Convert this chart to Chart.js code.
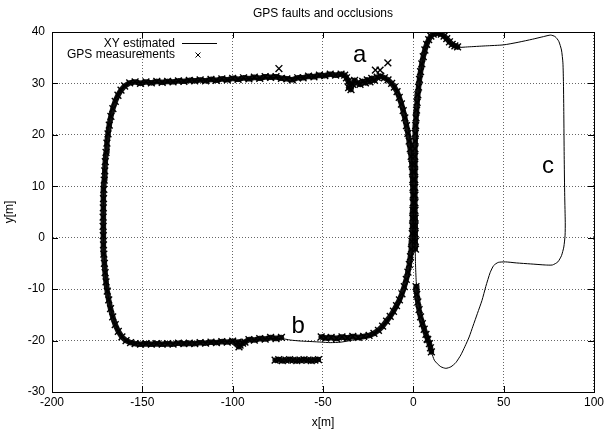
<!DOCTYPE html>
<html>
<head>
<meta charset="utf-8">
<script src="https://cdn.jsdelivr.net/npm/chart.js"></script>
<style>
  html, body { margin: 0; padding: 0; background: #fff; }
  #holder { width: 607px; height: 432px; }
</style>
</head>
<body>
<div id="holder"><canvas id="gpsChart"></canvas></div>
<script>
// axis ticks
var xTicks = [-200, -150, -100, -50, 0, 50, 100];
var yTicks = [-30, -20, -10, 0, 10, 20, 30, 40];

// XY estimated: rectangle loop, starting in the shared strand near x=0 and going down
var estRect = [[0.2,6],[0,2],[-0.5,-2],[-1.5,-5],[-3,-8],[-5,-10.5],[-7.5,-12.6],[-10.5,-14.5],[-14,-16.2],
  [-17.5,-17.6],[-21,-18.6],[-25,-19.2],[-32,-19.8],[-40,-20.3],[-46,-20.4],[-51,-20.3],[-56,-20.2],[-62,-20.1],
  [-68,-19.9],[-73,-19.6],[-80,-19.6],[-88,-19.8],[-95,-20.1],[-105,-20.2],[-118,-20.4],[-130,-20.5],[-142,-20.6],
  [-150,-20.6],[-155,-20.5],[-158,-20.1],[-160.5,-19.4],[-163,-18.3],[-165,-16.8],[-166.8,-14.8],[-168.3,-12.5],
  [-169.5,-10],[-170.4,-7],[-171,-4],[-171.4,-1],[-171.6,2],[-171.6,5],[-171.4,9],[-171,13],[-170.4,16.5],
  [-169.5,19.8],[-168.3,22.8],[-166.8,25.2],[-164.8,27.2],[-162.5,28.7],[-160,29.6],[-157,30.1],[-153,30.2],
  [-145,30.2],[-135,30.3],[-125,30.5],[-115,30.6],[-105,30.7],[-95,30.9],[-85,31],[-75,31.2],[-68,31],[-60,31.2],
  [-50,31.5],[-42,31.7],[-37,31.4],[-34,30.6],[-30,30.2],[-25,30.4],[-20,31],[-16,31],[-12.5,30.2],[-9.5,28.9],
  [-7,27.2],[-5,25],[-3.2,22.2],[-1.8,19],[-0.8,15],[-0.2,11],[0.2,6]];

// XY estimated: right loop (c), going up the strand at x~1, round the bump and the GPS-free part
var estLoop = [[1,6],[1.1,10],[1.3,14],[1.6,18],[2,22],[2.6,26],[3.4,29.5],[4.5,32.8],[5.8,35.5],[7.5,37.8],
  [9.5,39.2],[12,39.8],[14.5,39.6],[17,38.8],[19.5,37.8],[22,37.2],[25,37],[30,37.1],[40,37.3],[50,37.5],
  [58,38],[66,38.6],[72,39.1],[76,39.4],[78.5,39.1],[80.5,38.2],[82,36.5],[82.8,34],[83.1,30],[83.3,24],
  [83.5,16],[83.8,8],[84.1,3],[84,0.5],[83.3,-1.8],[82,-3.5],[80,-4.7],[77,-5.3],[73,-5.3],[65,-5.1],[57,-4.9],
  [51,-4.7],[47,-4.8],[44.5,-5.4],[42.5,-6.8],[40.1,-9.5],[38,-12.2],[35.5,-14.7],[33,-17.2],[30.9,-19.3],
  [28.5,-21.2],[26.3,-22.8],[23.5,-24.3],[20.8,-25.1],[18,-25.4],[15.3,-25.1],[13.3,-24.5],[11.6,-23.8],
  [10.2,-22.4],[8.9,-20.6],[7.3,-18.8],[6,-17.2],[4.6,-15.4],[3.4,-13.5],[2.3,-11],[1.6,-8.5],[1.2,-5],
  [1,-1],[1,3],[1,6]];

// GPS measurements, in driving order along each stretch
var gpsBottom = [[-73,-19.4],[-76,-19.6],[-79,-19.4],[-82,-19.7],[-85,-19.6],[-88,-19.9],[-91,-19.8],
  [-93.2,-20.3],[-95.9,-20.9],[-94.5,-20.5],[-97,-20.3],[-96.5,-21.2],[-100,-20.1],[-103,-20.3],[-106,-20.2],
  [-109,-20.4],[-112,-20.3],[-115,-20.5],[-118,-20.4],[-121,-20.6],[-124,-20.5],[-127,-20.6],[-130,-20.5],
  [-133,-20.7],[-136,-20.6],[-139,-20.7],[-142,-20.6],[-145,-20.7],[-148,-20.6],[-151,-20.7],[-154,-20.6],
  [-156.5,-20.4]];
var gpsLeft = [[-159,-20],[-161.3,-19.3],[-163.3,-18.2],[-165,-16.9],[-166.4,-15.4],[-167.6,-13.8],
  [-168.6,-12.1],[-169.4,-10.4],[-170.1,-8.6],[-170.6,-6.8],[-171,-5],[-171.3,-3.2],[-171.5,-1.4],[-171.6,0.4],
  [-171.7,2.2],[-171.7,4],[-171.6,5.8],[-171.5,7.6],[-171.3,9.4],[-171.1,11.2],[-170.8,13],[-170.5,14.8],
  [-170.1,16.6],[-169.6,18.4],[-169,20.2],[-168.3,21.9],[-167.4,23.6],[-166.3,25.1],[-165,26.5],[-163.5,27.7],
  [-161.8,28.7],[-159.8,29.5]];
var gpsTop = [[-157,30.1],[-154,30.3],[-151,30],[-148,30.3],[-145,30.1],[-142,30.4],[-139,30.2],[-136,30.4],
  [-133,30.3],[-130,30.5],[-127,30.4],[-124,30.6],[-121,30.5],[-118,30.7],[-115,30.5],[-112,30.8],[-109,30.6],
  [-106,30.9],[-103,30.7],[-100,31],[-97,30.8],[-94,31.1],[-91,30.9],[-88,31.2],[-85,31],[-82,31.3],[-79,31.2],
  [-76,31.3],[-73,31],[-70,30.9],[-67,30.7],[-64,31.1],[-61,31.1],[-58,31.4],[-55,31.3],[-52,31.6],[-49,31.5],
  [-46,31.8],[-43,31.6],[-40,31.8]];
var gpsA = [[-38,31.6],[-37,31.1],[-36,30.4],[-35,29.6],[-34.5,28.8],[-35.8,29.2],[-33.5,29.8],[-32.5,30.6],
  [-31,30.1],[-29.5,29.8],[-28,30.4],[-26.5,30.1],[-25.5,30.7],[-24,30.3],[-23,31],[-21.5,30.6],[-20,31.2],
  [-18,31.4],[-16,31.1]];
var gpsDown = [[-14,30.7],[-12,30],[-10.5,29.3],[-9,28.4],[-7.8,27.3],[-6.6,26],[-5.6,24.7],[-4.7,23.3],
  [-3.8,21.8],[-3,20.3],[-2.3,18.8],[-1.7,17.3],[-1.2,15.8],[-0.8,14.3],[-0.5,12.8],[-0.3,11.3],[-0.2,9.8],
  [-0.1,8.3],[-0.1,6.8],[-0.2,5.3],[-0.3,3.8],[-0.4,2.3],[-0.6,0.8],[-0.8,-0.7],[-1.1,-2.2],[-1.6,-3.7],
  [-2.2,-5.2],[-3,-6.7],[-3.9,-8.1],[-5,-9.5],[-6.3,-10.9],[-7.7,-12.1],[-9.3,-13.2],[-11,-14.3],[-12.8,-15.3],
  [-14.8,-16.2],[-17,-17.2],[-19.3,-18],[-21.8,-18.6],[-24.5,-19],[-27.5,-19.2],[-30.5,-19.4],[-33.5,-19.2],
  [-36.5,-19.5],[-39.5,-19.3],[-42.5,-19.6],[-45.5,-19.4],[-48.5,-19.5],[-51,-19.3]];
var gpsFault = [[-76.5,-23.8],[-74.5,-23.7],[-72.5,-23.9],[-70.5,-23.8],[-68.5,-23.7],[-66.5,-23.8],
  [-64.5,-23.9],[-62.5,-23.8],[-60.5,-23.7],[-58.5,-23.8],[-56.5,-23.9],[-54.5,-23.8],[-52.5,-23.7]];
var gpsRightUp = [[24.5,37.1],[23,37.3],[21.5,37.6],[20,38.1],[18.5,38.7],[17,39.2],[15.5,39.6],[14,39.8],
  [12.5,39.8],[11,39.6],[9.7,39.2],[8.5,38.5],[7.4,37.6],[6.4,36.5],[5.5,35.2],[4.7,33.8],[4,32.3],[3.4,30.8],
  [2.9,29.3],[2.5,27.8],[2.1,26.3],[1.8,24.8],[1.5,23.3],[1.3,21.8],[1.1,20.3],[1,18.8],[0.9,17.3],[0.8,15.8],
  [0.8,14.3],[0.8,12.8],[0.8,11.3],[0.8,9.8],[0.9,8.3],[0.9,6.8],[0.9,5.3],[1,3.8],[1,2.3],[1,0.8],[1.1,-0.7],
  [1.2,-2.2]];
var gpsRightLow = [[1.5,-9.5],[1.9,-11],[2.5,-12.5],[3.2,-14],[4,-15.4],[5,-16.7],[6,-17.8],[7,-18.8],[8,-19.8],
  [8.9,-20.6],[9.5,-21.4],[10,-22.2]];
var gpsOutliers = [[-74.4,32.9],[-21,32.6],[-18.4,32.6],[-14.1,34],[7.6,-19.7]];

// text labels on the plot
var noteText = ['a', 'b', 'c'];
var noteX = [-29.7, -63.8, 74.5];
var noteY = [34.2, -18.6, 12.6];

var FONT = '"Liberation Sans", Arial, Helvetica, sans-serif';

function toXY(list) {
    return list.map(function (p) { return {x: p[0], y: p[1]}; });
}

// the GPS stretches as continuous runs (null breaks the run)
function runs(groups) {
    var out = [];
    groups.forEach(function (g, i) {
        if (i > 0) out.push({x: null, y: null});
        out = out.concat(toXY(g));
    });
    return out;
}

var estimated = toXY(estRect.concat(estLoop));
var gps = toXY([].concat(gpsBottom, gpsLeft, gpsTop, gpsA, gpsDown, gpsFault, gpsRightUp, gpsRightLow, gpsOutliers));
var gpsRuns = runs([[].concat(gpsBottom, gpsLeft, gpsTop, gpsA, gpsDown), gpsFault, gpsRightUp, gpsRightLow]);

var decor = {
    id: 'decor',
    beforeDatasetsDraw: function (chart) {
        var ctx = chart.ctx, a = chart.chartArea;
        var xs = chart.scales.x, ys = chart.scales.y;
        ctx.save();
        ctx.strokeStyle = '#000';
        ctx.lineWidth = 1;
        ctx.beginPath();
        xTicks.forEach(function (v) {
            var px = Math.round(xs.getPixelForValue(v)) + 0.5;
            ctx.moveTo(px, a.top); ctx.lineTo(px, a.top + 6);
            ctx.moveTo(px, a.bottom); ctx.lineTo(px, a.bottom - 6);
        });
        yTicks.forEach(function (v) {
            var py = Math.round(ys.getPixelForValue(v)) + 0.5;
            ctx.moveTo(a.left, py); ctx.lineTo(a.left + 6, py);
            ctx.moveTo(a.right, py); ctx.lineTo(a.right - 6, py);
        });
        ctx.stroke();
        ctx.strokeRect(Math.round(a.left) + 0.5, Math.round(a.top) + 0.5,
                       Math.round(a.right - a.left), Math.round(a.bottom - a.top));
        ctx.restore();
    },
    afterDraw: function (chart) {
        var ctx = chart.ctx, a = chart.chartArea;
        var xs = chart.scales.x, ys = chart.scales.y;
        var sets = chart.data.datasets;
        ctx.save();
        ctx.fillStyle = '#000';
        ctx.strokeStyle = '#000';

        // title
        ctx.font = '12px ' + FONT;
        ctx.textAlign = 'center';
        ctx.textBaseline = 'middle';
        ctx.fillText('GPS faults and occlusions', (a.left + a.right) / 2, 14);

        // legend (text right aligned, sample on the right, like gnuplot)
        ctx.textAlign = 'right';
        ctx.fillText(sets[0].label, a.left + 123, a.top + 11.5);
        ctx.fillText(sets[1].label, a.left + 123, a.top + 23);
        ctx.lineWidth = 1;
        ctx.beginPath();
        ctx.moveTo(a.left + 130, a.top + 11.5);
        ctx.lineTo(a.left + 165, a.top + 11.5);
        var mx = a.left + 146, my = a.top + 23;
        ctx.moveTo(mx - 2.5, my - 2.5); ctx.lineTo(mx + 2.5, my + 2.5);
        ctx.moveTo(mx - 2.5, my + 2.5); ctx.lineTo(mx + 2.5, my - 2.5);
        ctx.stroke();

        // a, b, c
        ctx.font = '24px ' + FONT;
        ctx.textAlign = 'center';
        ctx.textBaseline = 'alphabetic';
        noteText.forEach(function (t, i) {
            ctx.fillText(t, xs.getPixelForValue(noteX[i]), ys.getPixelForValue(noteY[i]));
        });
        ctx.restore();
    }
};

var ctx = document.getElementById('gpsChart');
var gpsChart = new Chart(ctx, {
    type: 'scatter',
    data: {
        datasets: [{
            label: 'XY estimated',
            data: estimated,
            showLine: true,
            borderColor: '#000',
            borderWidth: 1,
            pointRadius: 0,
            tension: 0.2
        }, {
            label: 'GPS measurements',
            data: gps,
            showLine: false,
            pointStyle: 'crossRot',
            pointRadius: 4.8,
            pointBorderWidth: 1.4,
            borderColor: '#000',
            backgroundColor: '#000'
        }, {
            // dense GPS fixes merge into a solid band
            label: 'GPS band',
            data: gpsRuns,
            showLine: true,
            spanGaps: false,
            borderColor: '#111',
            borderWidth: 5.5,
            borderJoinStyle: 'round',
            borderCapStyle: 'round',
            pointRadius: 0,
            tension: 0
        }]
    },
    options: {
        responsive: true,
        maintainAspectRatio: false,
        animation: false,
        layout: { padding: { top: 32, right: 10, left: 0, bottom: 0 } },
        plugins: {
            legend: { display: false },
            title: { display: false },
            tooltip: { enabled: false }
        },
        scales: {
            x: {
                type: 'linear',
                min: -200,
                max: 100,
                afterBuildTicks: function (s) { s.ticks = xTicks.map(function (v) { return {value: v}; }); },
                afterFit: function (s) { s.height = 40; },
                ticks: { color: '#000', font: { family: FONT, size: 12 }, padding: 3, maxRotation: 0, autoSkip: false },
                grid: { color: '#666', drawTicks: false },
                border: { display: true, color: '#000', dash: [1, 2] },
                title: { display: true, text: 'x[m]', color: '#000', font: { family: FONT, size: 12 }, padding: { top: 0, bottom: 2 } }
            },
            y: {
                type: 'linear',
                min: -30,
                max: 40,
                afterBuildTicks: function (s) { s.ticks = yTicks.map(function (v) { return {value: v}; }); },
                afterFit: function (s) { s.width = 52; },
                ticks: { color: '#000', font: { family: FONT, size: 12 }, padding: 7 },
                grid: { color: '#666', drawTicks: false },
                border: { display: true, color: '#000', dash: [1, 2] },
                title: { display: true, text: 'y[m]', color: '#000', font: { family: FONT, size: 12 }, padding: { top: 2, bottom: 0 } }
            }
        }
    },
    plugins: [decor]
});
</script>
</body>
</html>
